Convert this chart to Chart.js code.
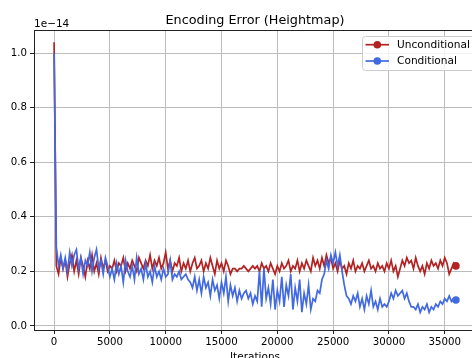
<!DOCTYPE html>
<html>
<head>
<meta charset="utf-8">
<title>Encoding Error (Heightmap)</title>
<script src="https://cdn.jsdelivr.net/npm/chart.js@4/dist/chart.umd.min.js"></script>
<style>
  html, body { margin: 0; padding: 0; background: #fff; overflow: hidden; }
  #wrap { width: 472px; height: 358px; overflow: hidden; }
</style>
</head>
<body>
<div id="wrap"><canvas id="myChart" width="480" height="358"></canvas></div>
<script>
// logged every STEP iterations, values in units of 1e-14
const STEP = 200;

const unconditional = [
  1.04,
  0.22, 0.19, 0.25, 0.21, 0.24, 0.18, 0.23, 0.26, 0.20, 0.24, 0.19, 0.25, 0.22, 0.18, 0.24, 0.21, 0.26, 0.20, 0.23, 0.19, 0.25, 0.21, 0.24, 0.20, 0.22,
  0.21, 0.24, 0.20, 0.23, 0.22, 0.25, 0.20, 0.23, 0.21, 0.24, 0.22, 0.20, 0.25, 0.23, 0.21, 0.24, 0.22, 0.26, 0.21, 0.24, 0.22, 0.25, 0.21, 0.23, 0.27,
  0.21, 0.24, 0.20, 0.23, 0.22, 0.25, 0.20, 0.23, 0.21, 0.24, 0.20, 0.23, 0.25, 0.21, 0.22, 0.24, 0.20, 0.23, 0.21, 0.25, 0.22, 0.19, 0.24, 0.21, 0.23, 0.20, 0.24, 0.22, 0.19, 0.21,
  0.21, 0.20, 0.21, 0.21, 0.22, 0.21, 0.20, 0.21, 0.22, 0.21, 0.22, 0.20, 0.23, 0.21, 0.22,
  0.20, 0.23, 0.21, 0.19, 0.22, 0.20, 0.23, 0.21, 0.22, 0.24, 0.20, 0.22, 0.21, 0.24, 0.20, 0.23, 0.21, 0.24, 0.22, 0.20, 0.25, 0.22, 0.24, 0.21, 0.25, 0.22, 0.26, 0.23, 0.25, 0.21,
  0.23, 0.20, 0.24, 0.21, 0.22, 0.19, 0.23, 0.21, 0.24, 0.20,
  0.22, 0.21, 0.23, 0.20, 0.22, 0.24, 0.21, 0.22, 0.20, 0.23,
  0.21, 0.22, 0.20, 0.23, 0.21, 0.24, 0.20, 0.22, 0.18, 0.21,
  0.24, 0.22, 0.25, 0.23, 0.24, 0.21, 0.25, 0.22, 0.20, 0.22,
  0.19, 0.23, 0.21, 0.24, 0.22, 0.23, 0.21, 0.24, 0.22, 0.25,
  0.23, 0.19, 0.21, 0.23, 0.22
];

const conditional = [
  1.00, 0.29,
  0.22, 0.26, 0.21, 0.25, 0.20, 0.27, 0.22, 0.26, 0.28, 0.21, 0.25, 0.19, 0.24, 0.22, 0.27, 0.20, 0.25, 0.28, 0.21, 0.24, 0.19, 0.25, 0.22, 0.18,
  0.21, 0.17, 0.23, 0.19, 0.22, 0.16, 0.24, 0.20, 0.18, 0.22, 0.17, 0.25, 0.19, 0.21, 0.17, 0.23, 0.18, 0.20, 0.16, 0.22, 0.18, 0.20, 0.17, 0.21, 0.18,
  0.19, 0.24, 0.17, 0.19, 0.18, 0.20, 0.17, 0.18, 0.19, 0.17,
  0.16, 0.14, 0.18, 0.13, 0.17, 0.12, 0.18, 0.14, 0.16, 0.11, 0.17, 0.13, 0.15, 0.10, 0.16, 0.12, 0.18, 0.09, 0.15, 0.11, 0.14, 0.09, 0.13, 0.10, 0.12,
  0.13, 0.10, 0.12, 0.08, 0.11, 0.09, 0.20, 0.07, 0.21, 0.10, 0.14, 0.08, 0.17, 0.06, 0.13, 0.09, 0.18, 0.07, 0.15, 0.11, 0.19, 0.06, 0.14, 0.09, 0.17, 0.05, 0.12, 0.08, 0.15, 0.06,
  0.10, 0.09, 0.13, 0.12, 0.17, 0.19, 0.24, 0.21, 0.26, 0.23,
  0.27, 0.22, 0.26, 0.20, 0.15, 0.11, 0.10, 0.08, 0.11, 0.09,
  0.12, 0.07, 0.10, 0.06, 0.11, 0.08, 0.13, 0.07, 0.09, 0.06, 0.10, 0.07, 0.08, 0.07, 0.09,
  0.12, 0.10, 0.13, 0.11, 0.12, 0.13, 0.10, 0.12, 0.09, 0.07,
  0.07, 0.06, 0.08, 0.05, 0.07, 0.06, 0.08, 0.05, 0.07, 0.06,
  0.08, 0.07, 0.09, 0.08, 0.10, 0.09, 0.11, 0.09, 0.10, 0.095
];

const xTickValues = [0, 5000, 10000, 15000, 20000, 25000, 30000, 35000];
const yTickValues = [0.0, 0.2, 0.4, 0.6, 0.8, 1.0];

const RED = '#b22222';
const BLUE = '#4169e1';
const FONT = 'DejaVu Sans';

const toPoints = arr => arr.map((v, i) => ({x: i * STEP, y: v}));
const lastOnly = n => ctx => (ctx.dataIndex === n - 1 ? 3.8 : 0);

// title, offset text, x label, legend and the top/right spines
const decorations = {
  id: 'decorations',
  afterDraw(chart) {
    const {ctx, chartArea: a} = chart;
    ctx.save();
    ctx.strokeStyle = '#222';
    ctx.lineWidth = 1;
    ctx.beginPath();
    ctx.moveTo(a.left, a.top + 0.5);
    ctx.lineTo(a.right, a.top + 0.5);
    ctx.lineTo(a.right - 0.5, a.bottom);
    ctx.stroke();

    const cx = (a.left + a.right) / 2;
    ctx.fillStyle = '#000';
    ctx.textBaseline = 'alphabetic';
    ctx.textAlign = 'center';
    ctx.font = '12.8px "' + FONT + '"';
    ctx.fillText('Encoding Error (Heightmap)', cx, 23.5);
    ctx.font = '10.5px "' + FONT + '"';
    ctx.fillText('Iterations', cx, 360);
    ctx.textAlign = 'left';
    ctx.fillText('1e\u221214', a.left, 26.5);

    // legend
    const bx = 362.5, by = 36.5, bw = 118, bh = 34;
    ctx.beginPath();
    ctx.roundRect(bx, by, bw, bh, 3);
    ctx.fillStyle = 'rgba(255,255,255,0.8)';
    ctx.fill();
    ctx.strokeStyle = '#cccccc';
    ctx.stroke();
    const rows = [['Unconditional', RED, 44.7], ['Conditional', BLUE, 61]];
    ctx.font = '10.6px "' + FONT + '"';
    ctx.textBaseline = 'middle';
    rows.forEach(([label, color, y]) => {
      ctx.strokeStyle = color;
      ctx.lineWidth = 1.7;
      ctx.beginPath();
      ctx.moveTo(365.5, y);
      ctx.lineTo(389, y);
      ctx.stroke();
      ctx.fillStyle = color;
      ctx.beginPath();
      ctx.arc(377.3, y, 3.8, 0, Math.PI * 2);
      ctx.fill();
      ctx.fillStyle = '#000';
      ctx.fillText(label, 397, y + 0.5);
    });
    ctx.restore();
  }
};

const config = {
  type: 'line',
  data: {
    datasets: [
      {
        label: 'Unconditional',
        data: toPoints(unconditional),
        borderColor: RED,
        backgroundColor: RED,
        borderWidth: 1.7,
        pointRadius: lastOnly(unconditional.length),
        pointBorderWidth: 0,
        tension: 0,
        order: 2
      },
      {
        label: 'Conditional',
        data: toPoints(conditional),
        borderColor: BLUE,
        backgroundColor: BLUE,
        borderWidth: 1.7,
        pointRadius: lastOnly(conditional.length),
        pointBorderWidth: 0,
        tension: 0,
        order: 1
      }
    ]
  },
  options: {
    responsive: false,
    animation: false,
    devicePixelRatio: 1,
    layout: {padding: {left: 0, top: 30, right: 1, bottom: 0}},
    plugins: {
      legend: {display: false},
      title: {display: false},
      tooltip: {enabled: false}
    },
    scales: {
      x: {
        type: 'linear',
        min: -1800,
        max: 37800,
        afterFit(scale) { scale.height = 28; },
        afterBuildTicks(scale) { scale.ticks = xTickValues.map(v => ({value: v})); },
        grid: {color: '#bcbcbc', lineWidth: 1, tickLength: 4, tickColor: '#222'},
        border: {display: true, color: '#222', width: 1},
        ticks: {
          color: '#000',
          padding: 2,
          maxRotation: 0,
          font: {family: FONT, size: 10.2},
          callback: v => String(v)
        }
      },
      y: {
        type: 'linear',
        min: -0.015,
        max: 1.085,
        afterFit(scale) { scale.width = 34; },
        afterBuildTicks(scale) { scale.ticks = yTickValues.map(v => ({value: v})); },
        grid: {color: '#bcbcbc', lineWidth: 1, tickLength: 4, tickColor: '#222'},
        border: {display: true, color: '#222', width: 1},
        ticks: {
          color: '#000',
          padding: 3,
          font: {family: FONT, size: 10.2},
          callback: v => v.toFixed(1)
        }
      }
    }
  },
  plugins: [decorations]
};

var myChart = new Chart(document.getElementById('myChart'), config);
</script>
</body>
</html>
